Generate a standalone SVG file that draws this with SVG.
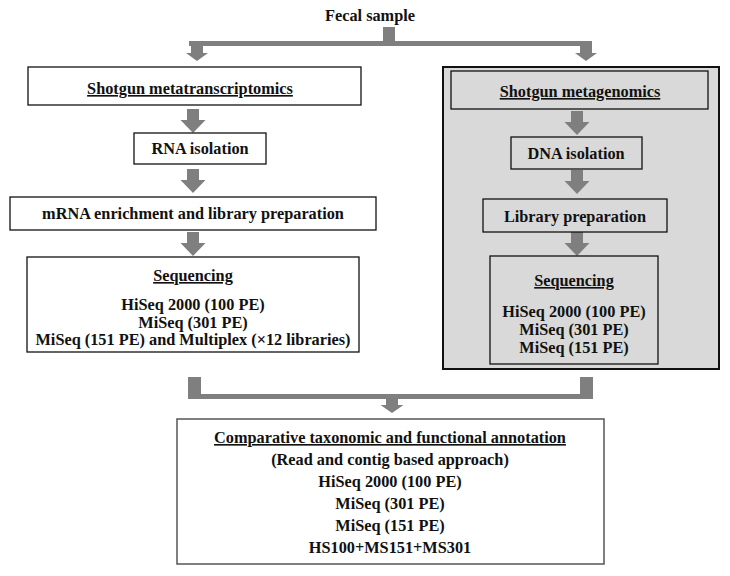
<svg xmlns="http://www.w3.org/2000/svg" xmlns:xlink="http://www.w3.org/1999/xlink" width="730" height="576" viewBox="0 0 730 576">
<style>
text{font-family:"Liberation Serif","Times New Roman","DejaVu Serif",serif;font-weight:bold;font-size:16.3px;fill:#111;text-anchor:middle}
.u{text-decoration:underline}
.box{fill:#fff;stroke:#111;stroke-width:1.3}
.gbox{fill:none;stroke:#111;stroke-width:1.3}
.flow{fill:#7f7f7f}
</style>
<defs>
<path id="arr" d="M-6,0 H6 V11 H12.5 L0,24 L-12.5,11 H-6 Z"/>
<path id="arrS" d="M-6,0 H6 V7 H11 L0,15 L-11,7 H-6 Z"/>
<path id="arrB" d="M-6,0 H6 V6 H11.5 L0,14 L-11.5,6 H-6 Z"/>
</defs>
<rect x="0" y="0" width="730" height="576" fill="#fff"/>

<g id="fecal"><text x="370" y="21">Fecal sample</text></g>

<g id="metagenomics-panel">
<rect x="443" y="67" width="276" height="302" fill="#d9d9d9" stroke="#111" stroke-width="2"/>
</g>

<g id="connectors" class="flow">
<rect x="383" y="27" width="12" height="15"/>
<rect x="189" y="41" width="403" height="5"/>
<use xlink:href="#arrS" x="197" y="46"/>
<use xlink:href="#arrS" x="586" y="46"/>
<use xlink:href="#arr" x="193" y="109"/>
<use xlink:href="#arr" x="193" y="169"/>
<use xlink:href="#arr" x="193" y="232"/>
<use xlink:href="#arr" x="577" y="111"/>
<use xlink:href="#arr" x="577" y="170"/>
<use xlink:href="#arr" x="577" y="232"/>
<rect x="188" y="377" width="13" height="22"/>
<rect x="580" y="377" width="13" height="22"/>
<rect x="188" y="394" width="405" height="5"/>
<use xlink:href="#arrB" x="392" y="399"/>
</g>

<g id="metatranscriptomics">
<rect class="box" x="28" y="67" width="333" height="38"/>
<text class="u" x="190" y="94">Shotgun metatranscriptomics</text>
</g>
<g id="rna-isolation">
<rect class="box" x="134" y="133" width="132" height="31"/>
<text x="200" y="154">RNA isolation</text>
</g>
<g id="mrna-enrichment">
<rect class="box" x="10" y="197" width="366" height="33"/>
<text x="193" y="219">mRNA enrichment and library preparation</text>
</g>
<g id="sequencing-left">
<rect class="box" x="27" y="257" width="332" height="95"/>
<text class="u" x="193" y="281">Sequencing</text>
<text x="193" y="310">HiSeq 2000 (100 PE)</text>
<text x="193" y="327.5">MiSeq (301 PE)</text>
<text x="193" y="345">MiSeq (151 PE) and Multiplex (×12 libraries)</text>
</g>

<g id="metagenomics">
<rect class="gbox" x="451" y="71" width="257" height="38"/>
<text class="u" x="580" y="97">Shotgun metagenomics</text>
</g>
<g id="dna-isolation">
<rect class="gbox" x="511" y="137" width="131" height="32"/>
<text x="576" y="159">DNA isolation</text>
</g>
<g id="library-preparation">
<rect class="gbox" x="483" y="199" width="184" height="33"/>
<text x="575" y="222">Library preparation</text>
</g>
<g id="sequencing-right">
<rect class="gbox" x="490" y="256" width="168" height="108"/>
<text class="u" x="574" y="286">Sequencing</text>
<text x="574" y="317">HiSeq 2000 (100 PE)</text>
<text x="574" y="335">MiSeq (301 PE)</text>
<text x="574" y="353">MiSeq (151 PE)</text>
</g>

<g id="annotation">
<rect x="177" y="419" width="427" height="145" fill="#fff" stroke="#555" stroke-width="1.5"/>
<text class="u" x="390" y="443">Comparative taxonomic and functional annotation</text>
<text x="390" y="465">(Read and contig based approach)</text>
<text x="390" y="487">HiSeq 2000 (100 PE)</text>
<text x="390" y="509">MiSeq (301 PE)</text>
<text x="390" y="531">MiSeq (151 PE)</text>
<text x="390" y="553">HS100+MS151+MS301</text>
</g>
</svg>
